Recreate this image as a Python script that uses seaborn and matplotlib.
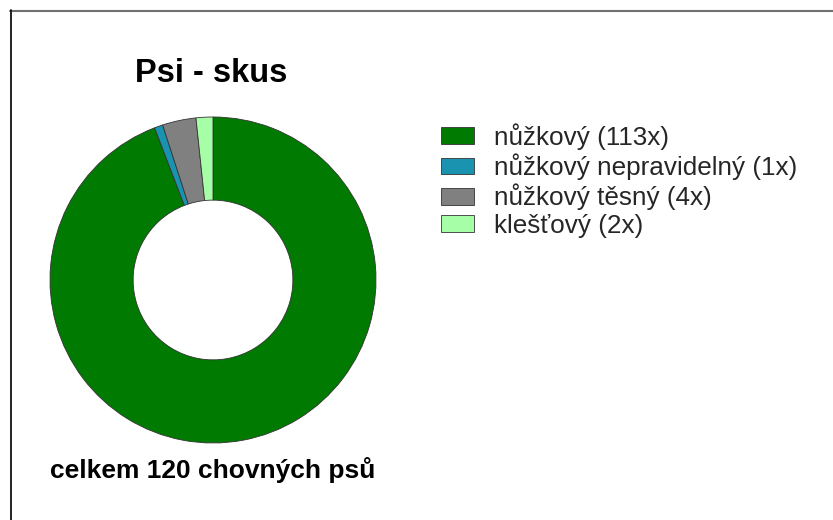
import matplotlib
matplotlib.use("Agg")
import matplotlib.pyplot as plt
import seaborn as sns
from matplotlib.lines import Line2D

categories = ["nůžkový (113x)", "nůžkový nepravidelný (1x)", "nůžkový těsný (4x)", "klešťový (2x)"]
counts = [113, 1, 4, 2]
colors = ["#007A00", "#1A93B0", "#808080", "#A6FFA6"]
title = "Psi - skus"
footer = "celkem 120 chovných psů"

sns.set_theme(style="white")
plt.rcParams["font.family"] = ["Liberation Sans", "DejaVu Sans"]

W, H = 833, 520
fig = plt.figure(figsize=(W / 100, H / 100), dpi=100)
fig.patch.set_facecolor("white")

# pie axes: center (213,280), radius 163 px
cx, cy, r = 213, 280, 163
ax = fig.add_axes([(cx - r) / W, (H - cy - r) / H, 2 * r / W, 2 * r / H])
wedges, _ = ax.pie(counts, colors=colors, startangle=90, counterclock=False,
                   radius=1.0, wedgeprops=dict(width=0.51, edgecolor="#333333", linewidth=0.6))
ax.set_xlim(-1, 1)
ax.set_ylim(-1, 1)
ax.set_aspect("equal")
ax.axis("off")

fig.text(211 / W, 1 - 73 / H, title, ha="center", va="center", fontsize=23.5, fontweight="bold", color="black")
fig.text(213 / W, 1 - 470 / H, footer, ha="center", va="center", fontsize=19, fontweight="bold", color="black")

leg = fig.legend(wedges, categories, loc="upper left", bbox_to_anchor=(431 / W, 1 - 113 / H),
                 frameon=False, fontsize=18.8, handlelength=1.23, handleheight=0.62,
                 handletextpad=0.8, labelspacing=0.13, borderaxespad=0)
for h in leg.legend_handles:
    h.set_edgecolor("#333333")
    h.set_linewidth(0.6)

# frame lines (top gray, left black)
fig.add_artist(Line2D([10 / W, 1], [1 - 10.5 / H, 1 - 10.5 / H], transform=fig.transFigure, color="#707070", lw=1.5))
fig.add_artist(Line2D([10.5 / W, 10.5 / W], [0, 1 - 10 / H], transform=fig.transFigure, color="#111111", lw=1.3))

fig.savefig("out.png", dpi=100, facecolor="white")
